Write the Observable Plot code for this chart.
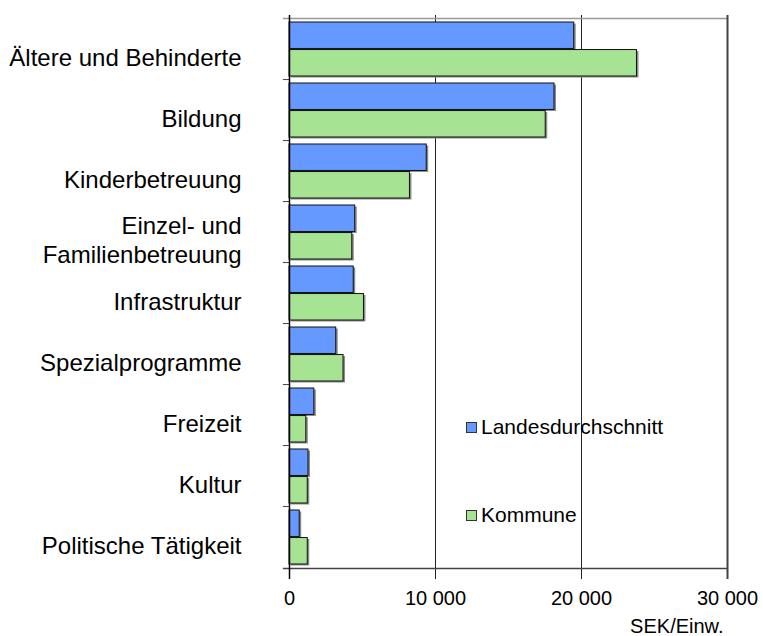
<!DOCTYPE html>
<html>
<head>
<meta charset="utf-8">
<script src="https://cdn.jsdelivr.net/npm/d3@7"></script>
<script src="https://cdn.jsdelivr.net/npm/@observablehq/plot@0.6"></script>
<style>
  html, body { margin: 0; padding: 0; background: #fff; }
  #wrap { position: relative; width: 763px; height: 636px; overflow: hidden; font-family: Arial, "Liberation Sans", sans-serif; }
  .lg { position: absolute; display: flex; align-items: center; font-size: 21px; color: #000; white-space: nowrap; }
  .sw { width: 9px; height: 9px; border: 1px solid #333; margin-right: 4px; }
</style>
</head>
<body>
<div id="wrap"></div>
<script>
const categories = ["Ältere und Behinderte", "Bildung", "Kinderbetreuung", "Einzel- und Familienbetreuung", "Infrastruktur", "Spezialprogramme", "Freizeit", "Kultur", "Politische Tätigkeit"];
const categoryLabels = ["Ältere und Behinderte", "Bildung", "Kinderbetreuung", "Einzel- und\nFamilienbetreuung", "Infrastruktur", "Spezialprogramme", "Freizeit", "Kultur", "Politische Tätigkeit"];
const seriesNames = ["Landesdurchschnitt", "Kommune"];
const seriesColors = ["#6699ff", "#a6e393"];
const landesdurchschnitt = [19500, 18150, 9400, 4500, 4400, 3200, 1700, 1300, 700];
const kommune = [23800, 17550, 8250, 4300, 5100, 3700, 1150, 1250, 1250];
const xTicks = [0, 10000, 20000, 30000];
const xUnit = "SEK/Einw.";

const W = 763, H = 636, mT = 15, mB = 64, mL = 289, mR = 36;
const step = (H - mT - mB) / categories.length;
const pIn = 0.11, pOut = 0.055;
const half = step * (1 - pIn) / 2;

const blue = categories.map((c, i) => ({cat: c, v: landesdurchschnitt[i]}));
const green = categories.map((c, i) => ({cat: c, v: kommune[i]}));

const loc = d3.formatLocale({decimal: ",", thousands: " ", grouping: [3], currency: ["", ""]});
const fmt = loc.format(",");

const tickLen = 420; // data units ≈ 6px

const chart = Plot.plot({
  width: W, height: H,
  marginTop: mT, marginBottom: mB, marginLeft: mL, marginRight: mR,
  style: {fontFamily: "Arial, 'Liberation Sans', sans-serif", fontSize: "20px", color: "#000", background: "#fff", overflow: "visible"},
  x: {domain: [0, 30000], ticks: xTicks, tickFormat: fmt, tickSize: 0, tickPadding: 18, label: null},
  y: {domain: categories, paddingInner: pIn, paddingOuter: pOut, axis: null},
  marks: [
    Plot.ruleX(xTicks.slice(1, 3), {stroke: "#222", strokeWidth: 1, insetBottom: -7}),
    Plot.barX(blue, {y: "cat", x: "v", insetBottom: half, fill: "#8a8a8a", dx: 2, dy: 1.5}),
    Plot.barX(green, {y: "cat", x: "v", insetTop: half, fill: "#8a8a8a", dx: 2, dy: 1.5}),
    Plot.barX(blue, {y: "cat", x: "v", insetBottom: half, fill: seriesColors[0], stroke: "#111", strokeWidth: 1}),
    Plot.barX(green, {y: "cat", x: "v", insetTop: half, fill: seriesColors[1], stroke: "#111", strokeWidth: 1}),
    Plot.ruleY(categories.slice(1), {y: d => d, dy: -step / 2, x1: -tickLen, x2: 0, stroke: "#444"}),
    Plot.ruleY(categories.slice(0, 1), {y: d => d, dy: -step / 2, x1: -tickLen, x2: 30000, stroke: "#999", strokeWidth: 1.5}),
    Plot.ruleY(categories.slice(-1), {y: d => d, dy: step / 2, x1: -tickLen, x2: 30000, stroke: "#444", strokeWidth: 1.5}),
    Plot.ruleX([0], {stroke: "#000", strokeWidth: 1.5, insetBottom: -7}),
    Plot.ruleX([30000], {stroke: "#444", strokeWidth: 2, insetBottom: -7}),
    Plot.text(categories, {y: d => d, text: (d, i) => categoryLabels[i], frameAnchor: "left", dx: -48, dy: 7, textAnchor: "end", fontSize: 24, lineHeight: 1.18, fill: "#000"}),
    Plot.text([xUnit], {frameAnchor: "bottom-right", text: d => d, dx: -4, dy: 46, lineAnchor: "top", textAnchor: "end", fontSize: 20, fill: "#000"})
  ]
});

const wrap = document.getElementById("wrap");
wrap.appendChild(chart);

const legendPos = [{left: 466, top: 414}, {left: 466, top: 502}];
seriesNames.forEach((name, i) => {
  const d = document.createElement("div");
  d.className = "lg";
  d.style.left = legendPos[i].left + "px";
  d.style.top = legendPos[i].top + "px";
  d.style.height = "26px";
  const sw = document.createElement("div");
  sw.className = "sw";
  sw.style.background = seriesColors[i];
  const t = document.createElement("span");
  t.textContent = name;
  d.appendChild(sw);
  d.appendChild(t);
  wrap.appendChild(d);
});
</script>
</body>
</html>
